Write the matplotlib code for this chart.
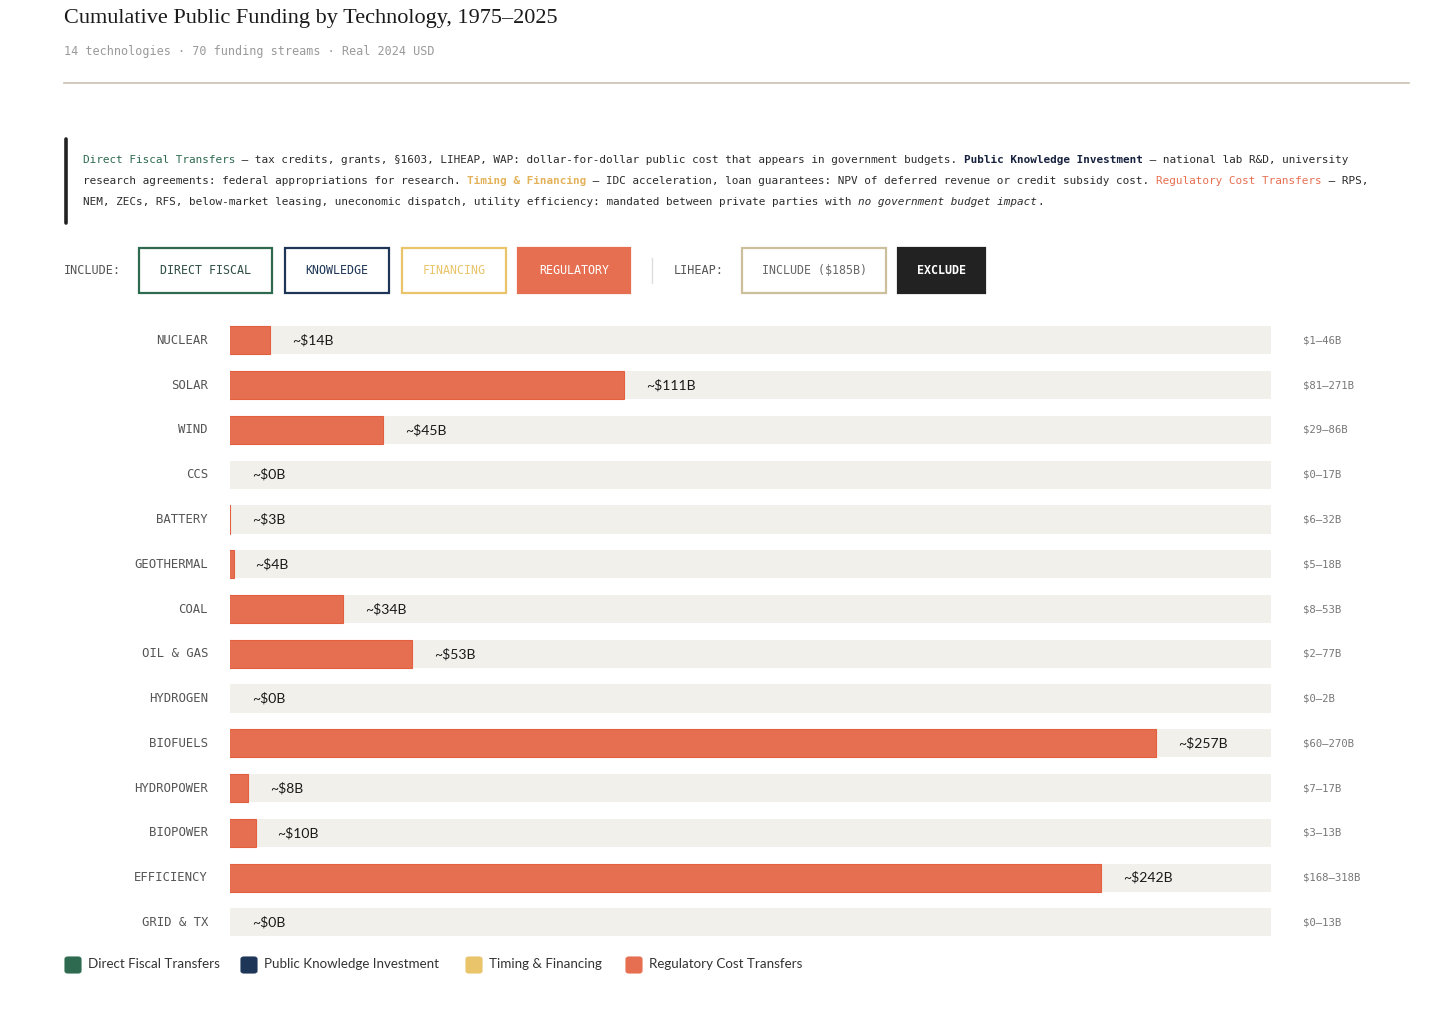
import matplotlib.pyplot as plt
from matplotlib.patches import Rectangle, FancyBboxPatch

# data
techs = ['NUCLEAR', 'SOLAR', 'WIND', 'CCS', 'BATTERY', 'GEOTHERMAL', 'COAL',
         'OIL & GAS', 'HYDROGEN', 'BIOFUELS', 'HYDROPOWER', 'BIOPOWER',
         'EFFICIENCY', 'GRID & TX']
totals = [14, 111, 45, 0, 3, 4, 34, 53, 0, 257, 8, 10, 242, 0]
ranges = ['$1–46B', '$81–271B', '$29–86B', '$0–17B', '$6–32B', '$5–18B',
          '$8–53B', '$2–77B', '$0–2B', '$60–270B', '$7–17B', '$3–13B',
          '$168–318B', '$0–13B']
categories = ['Direct Fiscal Transfers', 'Public Knowledge Investment',
              'Timing & Financing', 'Regulatory Cost Transfers']

GREEN = '#2d6a4f'
NAVY = '#1d3557'
YELLOW = '#e9c46a'
ORANGE = '#e76f51'
TRACK = '#f2f0eb'
INK = '#2b2b2b'
GREY = '#777777'

MONO = 'DejaVu Sans Mono'
SANS = 'Lato'

W, H = 1456, 1024
fig = plt.figure(figsize=(W / 100, H / 100), dpi=100)
fig.patch.set_facecolor('white')


def fx(x):
    return x / W


def fy(y):
    return 1 - y / H


def txt(x, y, s, **kw):
    kw.setdefault('va', 'center')
    return fig.text(fx(x), fy(y), s, **kw)


# header
txt(64, 18, 'Cumulative Public Funding by Technology, 1975–2025',
    family='Liberation Serif', fontsize=16, color='#1a1a1a')
txt(64, 51, '14 technologies · 70 funding streams · Real 2024 USD',
    family=MONO, fontsize=8.5, color='#9a9a9a')
fig.add_artist(plt.Line2D([fx(64), fx(1409)], [fy(83), fy(83)],
                          color='#c9c1b1', lw=1.2))

# definitions block
fig.add_artist(plt.Line2D([fx(66), fx(66)], [fy(139), fy(223)],
                          color='#222222', lw=2.6, solid_capstyle='round'))
note_fs = 7.9
probe = fig.text(0, 0, 'x' * 100, family=MONO, fontsize=note_fs)
fig.canvas.draw()
cw = probe.get_window_extent().width / 100
probe.remove()

lines = [
    [('Direct Fiscal Transfers', GREEN, 'normal', 'normal'),
     (' – tax credits, grants, §1603, LIHEAP, WAP: dollar-for-dollar public cost '
      'that appears in government budgets. ', INK, 'normal', 'normal'),
     ('Public Knowledge Investment', '#16213e', 'bold', 'normal'),
     (' – national lab R&D, university', INK, 'normal', 'normal')],
    [('research agreements: federal appropriations for research. ', INK, 'normal', 'normal'),
     ('Timing & Financing', '#e3b25a', 'bold', 'normal'),
     (' – IDC acceleration, loan guarantees: NPV of deferred revenue or credit '
      'subsidy cost. ', INK, 'normal', 'normal'),
     ('Regulatory Cost Transfers', ORANGE, 'normal', 'normal'),
     (' – RPS,', INK, 'normal', 'normal')],
    [('NEM, ZECs, RFS, below-market leasing, uneconomic dispatch, utility '
      'efficiency: mandated between private parties with ', INK, 'normal', 'normal'),
     ('no government budget impact', INK, 'normal', 'italic'),
     ('.', INK, 'normal', 'normal')],
]
for row, parts in enumerate(lines):
    x = 83
    for s, c, wt, st in parts:
        txt(x, 160 + 21 * row, s, family=MONO, fontsize=note_fs, color=c,
            weight=wt, style=st)
        x += len(s) * cw

# filter buttons (static)
txt(64, 270, 'INCLUDE:', family=MONO, fontsize=8.6, color='#555555')
buttons = [
    (138, 273, 'DIRECT FISCAL', GREEN, 'white', '#2f4f44'),
    (284, 390, 'KNOWLEDGE', NAVY, 'white', NAVY),
    (401, 507, 'FINANCING', YELLOW, 'white', YELLOW),
    (517, 631, 'REGULATORY', ORANGE, ORANGE, 'white'),
    (741, 887, 'INCLUDE ($185B)', '#cbbf9c', 'white', '#666666'),
    (897, 986, 'EXCLUDE', '#222222', '#222222', 'white'),
]
for x0, x1, label, edge, face, tc in buttons:
    fig.add_artist(Rectangle((fx(x0 + 1), fy(293)), fx(x1 - x0 - 2), (293 - 248) / H,
                             transform=fig.transFigure, facecolor=face,
                             edgecolor=edge, lw=1.6))
    txt((x0 + x1) / 2, 270, label, family=MONO, fontsize=8.4, color=tc,
        ha='center', weight='bold' if label == 'EXCLUDE' else 'normal')
fig.add_artist(plt.Line2D([fx(652), fx(652)], [fy(258), fy(283)],
                          color='#dddddd', lw=1))
txt(674, 270, 'LIHEAP:', family=MONO, fontsize=8.6, color='#555555')

# bar chart; the original bars sit slightly inset, so the scale starts at 3
lo, hi = 3, 288.5
top, step = 318.0, 44.77
ax = fig.add_axes([fx(230), fy(top + step * len(techs)), fx(1271 - 230),
                   step * len(techs) / H])
ypos = list(range(len(techs)))
ax.barh(ypos, [hi] * len(techs), height=0.63, color=TRACK, left=0)
ax.barh(ypos, totals, height=0.63, color=ORANGE, edgecolor='#e2603f', lw=0.8)
ax.set_xlim(lo, hi)
ax.set_ylim(len(techs) - 0.5, -0.5)
ax.axis('off')

for i, (name, v, r) in enumerate(zip(techs, totals, ranges)):
    ax.annotate(name, (lo, i), xytext=(-22, 0), textcoords='offset pixels',
                ha='right', va='center', family=MONO, fontsize=8.8,
                color='#555555', annotation_clip=False)
    ax.annotate(f'~${v}B', (max(v, lo), i), xytext=(22, 0),
                textcoords='offset pixels', ha='left', va='center',
                family=SANS, fontsize=10.1, color='#1a1a1a',
                annotation_clip=False)
    ax.annotate(r, (hi, i), xytext=(32, 0), textcoords='offset pixels',
                ha='left', va='center', family=MONO, fontsize=7.7,
                color=GREY, annotation_clip=False)

# legend
leg_x = [64, 240, 465, 625]
for x, name, c in zip(leg_x, categories, [GREEN, NAVY, YELLOW, ORANGE]):
    fig.add_artist(FancyBboxPatch((fx(x + 1), fy(973)), fx(16), 16 / H,
                                  boxstyle='round,pad=0,rounding_size=0.002',
                                  transform=fig.transFigure, facecolor=c,
                                  edgecolor=c, lw=0.8))
    txt(x + 24, 964, name, family=SANS, fontsize=9.6, color='#333333')

fig.savefig('out.png', dpi=100, facecolor='white')
